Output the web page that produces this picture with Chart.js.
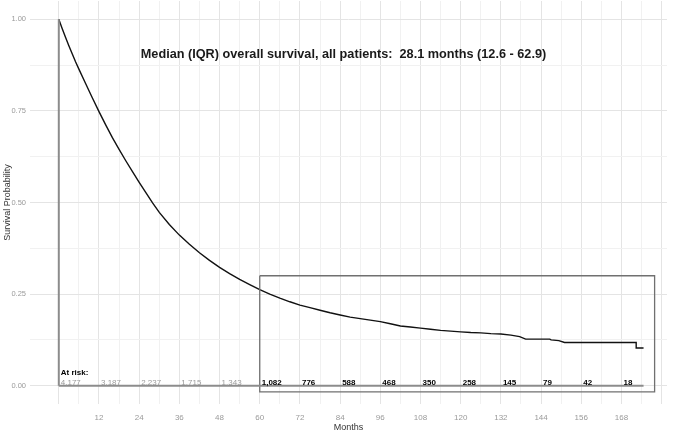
<!DOCTYPE html>
<html>
<head>
<meta charset="utf-8">
<script src="https://cdn.jsdelivr.net/npm/chart.js@4.4.1/dist/chart.umd.min.js"></script>
<style>
  body { margin: 0; background: #ffffff; }
  #chart { display: block; }
</style>
</head>
<body>
<canvas id="chart" width="685" height="432"></canvas>
<script>
// survival curve (months, probability)
let months = [0, 1, 2, 3, 4, 5, 6, 8, 10, 12, 14, 16, 18, 20, 22, 24, 26, 28, 30, 33, 36, 39, 42, 45, 48, 51, 54, 57, 60,
  63, 66, 69, 72, 75, 78, 81, 84, 87, 90, 93, 96, 99, 102, 105, 108, 111, 114, 117, 120, 123, 126, 129, 132,
  135, 137.6, 139.4, 146.6, 147, 149.3, 151, 172.4, 172.4, 174.6];
let survival = [1.0, 0.975, 0.951, 0.928, 0.906, 0.884, 0.864, 0.825, 0.786, 0.748, 0.712, 0.677, 0.645, 0.614, 0.584, 0.555, 0.527, 0.499, 0.473, 0.44, 0.411, 0.386, 0.363, 0.342, 0.323, 0.306, 0.29, 0.276, 0.262,
  0.25, 0.239, 0.229, 0.22, 0.213, 0.206, 0.199, 0.193, 0.187, 0.183, 0.179, 0.175, 0.169, 0.163, 0.16, 0.157, 0.154, 0.151, 0.149, 0.147, 0.145, 0.144, 0.142, 0.141,
  0.138, 0.134, 0.127, 0.127, 0.125, 0.123, 0.118, 0.118, 0.103, 0.103];

// numbers at risk
let riskMonths = [0, 12, 24, 36, 48, 60, 72, 84, 96, 108, 120, 132, 144, 156, 168];
let riskCounts = [4177, 3187, 2237, 1715, 1343, 1082, 776, 588, 468, 350, 258, 145, 79, 42, 18];

// x ticks (labels every 12 months, grid every 6)
let xTickLabels = [12, 24, 36, 48, 60, 72, 84, 96, 108, 120, 132, 144, 156, 168];
let yTickLabels = [0, 0.25, 0.5, 0.75, 1];

// highlighted region (months 60+)
let boxMonths = [60, 177.9];
let boxSurvival = [-0.017, 0.3];

let titleText = "Median (IQR) overall survival, all patients:  28.1 months (12.6 - 62.9)";

function pts(xs, ys) {
  let out = [];
  for (let i = 0; i < xs.length; i++) {
    out.push({ x: xs[i], y: ys[i] });
  }
  return out;
}

let boxPts = [
  { x: boxMonths[0], y: boxSurvival[1] },
  { x: boxMonths[1], y: boxSurvival[1] },
  { x: boxMonths[1], y: boxSurvival[0] },
  { x: boxMonths[0], y: boxSurvival[0] },
  { x: boxMonths[0], y: boxSurvival[1] }
];

let lastMonth = months[months.length - 1];

let textPlugin = {
  id: "kmText",
  afterDatasetsDraw(chart) {
    let ctx = chart.ctx;
    let xs = chart.scales.x;
    let ys = chart.scales.y;
    ctx.save();

    // title inside the panel
    ctx.font = "bold 12.7px 'Liberation Sans', Arial, sans-serif";
    ctx.fillStyle = "#1a1a1a";
    ctx.textAlign = "center";
    ctx.textBaseline = "middle";
    ctx.fillText(titleText, xs.getPixelForValue(85), ys.getPixelForValue(0.905));

    // risk table
    let y0 = ys.getPixelForValue(0);
    ctx.textAlign = "left";
    ctx.textBaseline = "alphabetic";
    ctx.font = "bold 8px 'Liberation Sans', Arial, sans-serif";
    ctx.fillStyle = "#000000";
    ctx.fillText("At risk:", xs.getPixelForValue(0) + 2, y0 - 11);

    for (let i = 0; i < riskMonths.length; i++) {
      let label = riskCounts[i].toLocaleString("en-US");
      if (riskMonths[i] < 60) {
        ctx.font = "8px 'Liberation Sans', Arial, sans-serif";
        ctx.fillStyle = "#9a9a9a";
      } else {
        ctx.font = "bold 8px 'Liberation Sans', Arial, sans-serif";
        ctx.fillStyle = "#000000";
      }
      ctx.fillText(label, xs.getPixelForValue(riskMonths[i]) + 2, y0 - 1);
    }
    ctx.restore();
  }
};

let ctxChart = new Chart(document.getElementById("chart"), {
  type: "line",
  data: {
    datasets: [
      {
        data: [{ x: 0, y: 0 }, { x: 0, y: 1 }],
        borderColor: "#8c8c8c",
        borderWidth: 2,
        pointRadius: 0
      },
      {
        data: [{ x: 0, y: 0 }, { x: lastMonth, y: 0 }],
        borderColor: "#8c8c8c",
        borderWidth: 2,
        pointRadius: 0
      },
      {
        data: boxPts,
        borderColor: "#707070",
        borderWidth: 1.3,
        pointRadius: 0
      },
      {
        data: pts(months, survival),
        borderColor: "#111111",
        borderWidth: 1.4,
        pointRadius: 0,
        tension: 0
      }
    ]
  },
  options: {
    responsive: false,
    devicePixelRatio: 1,
    animation: false,
    layout: { padding: { top: 1, right: 18, bottom: 0, left: 1 } },
    plugins: {
      legend: { display: false },
      tooltip: { enabled: false }
    },
    scales: {
      x: {
        type: "linear",
        min: -8.6,
        max: 181.6,
        afterBuildTicks: (axis) => {
          let t = [];
          for (let v = 0; v <= 180; v += 6) t.push({ value: v });
          axis.ticks = t;
        },
        afterFit: (axis) => {
          axis.height = 28;
          axis.paddingLeft = 0;
          axis.paddingRight = 0;
        },
        ticks: {
          autoSkip: false,
          maxRotation: 0,
          padding: 9,
          color: "#9a9a9a",
          font: { size: 8, family: "'Liberation Sans', Arial, sans-serif" },
          callback: (v) => (xTickLabels.includes(v) ? String(v) : "")
        },
        grid: {
          drawTicks: false,
          lineWidth: 1,
          color: (c) => (c.tick && c.tick.value % 12 === 0 ? "#e4e4e4" : "#f1f1f1")
        },
        border: { display: false },
        title: {
          display: true,
          text: "Months",
          color: "#333333",
          padding: { top: 0, bottom: 0 },
          font: { size: 9, lineHeight: 0.9, family: "'Liberation Sans', Arial, sans-serif" }
        }
      },
      y: {
        type: "linear",
        min: -0.05,
        max: 1.05,
        afterBuildTicks: (axis) => {
          let t = [];
          for (let v = 0; v <= 8; v++) t.push({ value: v * 0.125 });
          axis.ticks = t;
        },
        afterFit: (axis) => {
          axis.width = 29;
          axis.paddingTop = 0;
          axis.paddingBottom = 0;
        },
        ticks: {
          autoSkip: false,
          padding: 4,
          color: "#9a9a9a",
          font: { size: 7.5, family: "'Liberation Sans', Arial, sans-serif" },
          callback: (v) => (yTickLabels.includes(v) ? v.toFixed(2) : "")
        },
        grid: {
          drawTicks: false,
          lineWidth: 1,
          color: (c) => (c.tick && c.tick.value % 0.25 === 0 ? "#e4e4e4" : "#f1f1f1")
        },
        border: { display: false },
        title: {
          display: true,
          text: "Survival Probability",
          color: "#333333",
          padding: { top: 1, bottom: 0 },
          font: { size: 9, family: "'Liberation Sans', Arial, sans-serif" }
        }
      }
    }
  },
  plugins: [textPlugin]
});
</script>
</body>
</html>
